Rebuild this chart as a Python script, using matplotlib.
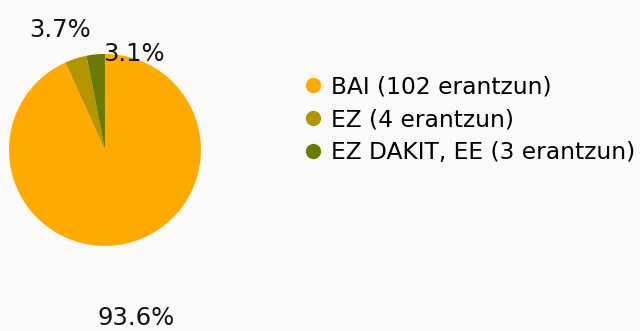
import numpy as np
import matplotlib.pyplot as plt
from matplotlib.lines import Line2D

categories = ['BAI', 'EZ', 'EZ DAKIT, EE']
answers = [102, 4, 3]
percent = [93.6, 3.7, 3.1]
colors = ['#FFAA00', '#B39500', '#6B7A00']

plt.rcParams['font.family'] = ['DejaVu Sans']

fig = plt.figure(figsize=(6.4, 3.31), dpi=100, facecolor='#FBFAF9')
ax = fig.add_axes([0.014, 0.257, 0.3, 0.58])
ax.set_facecolor('#FBFAF9')

wedges, _ = ax.pie(percent, colors=colors, startangle=90, counterclock=False,
                   wedgeprops=dict(linewidth=0))
ax.set_xlim(-1, 1)
ax.set_ylim(-1, 1)
ax.set_aspect('equal')

# percentage labels pushed out along each wedge's middle angle
dist = [1.79, 1.31, 1.0]
for w, p, d in zip(wedges, percent, dist):
    ang = np.deg2rad((w.theta1 + w.theta2) / 2)
    x, y = d * np.cos(ang), d * np.sin(ang)
    ha = 'center'
    if d < 1.1:
        ha = 'left'
        x = -0.02
    elif p > 50:
        x -= 0.05
    else:
        x -= 0.07
    ax.text(x, y, f'{p:.1f}%', ha=ha, va='center', fontsize=17.5, color='#111111')

handles = [Line2D([], [], marker='o', linestyle='', markersize=11,
                  markerfacecolor=c, markeredgewidth=0) for c in colors]
labels = [f'{c} ({n} erantzun)' for c, n in zip(categories, answers)]
fig.legend(handles, labels, loc='upper left', bbox_to_anchor=(0.458, 0.8),
           frameon=False, fontsize=16.8, handletextpad=0.33, labelspacing=0.42,
           handlelength=0.9, borderaxespad=0)

fig.savefig('out.png', dpi=100, facecolor=fig.get_facecolor())
